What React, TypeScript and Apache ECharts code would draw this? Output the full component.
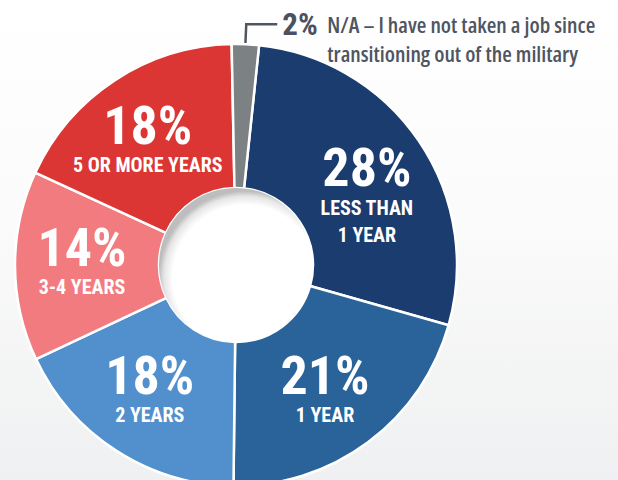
import React, { useEffect, useRef } from "react";
import * as echarts from "echarts";

const categories = [
  "LESS THAN\n1 YEAR",
  "1 YEAR",
  "2 YEARS",
  "3-4 YEARS",
  "5 OR MORE YEARS",
  "N/A – I have not taken a job since\ntransitioning out of the military",
];
const values = [28, 21, 18, 14, 18, 2];
const colors = ["#1b3c6f", "#2a6399", "#5190cd", "#f27b7f", "#db3634", "#7c8184"];

const COND = "Roboto, 'Open Sans', 'DejaVu Sans Condensed', sans-serif";
const CALLOUT = "'Open Sans', Roboto, sans-serif";

// small nudges of inside labels (layout only)
const labelShift: [number, number][] = [
  [5, 15],
  [-2, 2],
  [-4, -4],
  [-2, -5],
  [-5, 1],
  [0, 0],
];

export default function App() {
  const ref = useRef<HTMLDivElement>(null);

  useEffect(() => {
    if (!ref.current) return;
    const chart = echarts.init(ref.current, undefined, { renderer: "svg" });
    const last = values.length - 1;

    const data = values.map((v, i) => {
      const item: any = {
        value: v,
        name: categories[i],
        itemStyle: { color: colors[i] },
      };
      if (i === last) {
        item.label = {
          position: "outside",
          formatter: (p: any) => {
            const lines = String(p.name).split("\n");
            return `{pct|${p.value}%}{txt|${lines[0]}}\n{pad| }{txt|${lines[1]}}`;
          },
          width: 330,
          overflow: "none",
          align: "left",
          padding: [29, 0, 0, 0],
          distanceToLabelLine: 5,
          rich: {
            pct: {
              fontFamily: COND,
              fontWeight: "bold",
              fontSize: 31,
              color: "#4b5160",
              lineHeight: 29,
              width: 45,
              align: "left",
            },
            pad: { width: 45, lineHeight: 29, fontSize: 20, align: "left" },
            txt: {
              fontFamily: CALLOUT,
              fontWeight: 600,
              fontSize: 22,
              color: "#4f5562",
              lineHeight: 29,
              align: "left",
            },
          },
        };
        item.labelLine = {
          show: true,
          length: 20,
          length2: 31,
          lineStyle: { color: "#50565e", width: 2.5 },
        };
      }
      return item;
    });

    chart.setOption({
      animation: false,
      backgroundColor: "transparent",
      series: [
        {
          type: "pie",
          center: [236, 265],
          radius: [77, 221],
          startAngle: 84,
          clockwise: true,
          avoidLabelOverlap: false,
          itemStyle: { borderColor: "#ffffff", borderWidth: 2.5 },
          label: {
            show: true,
            position: "inside",
            formatter: (p: any) => `{pct|${p.value}%}\n{cat|${p.name}}`,
            rich: {
              pct: {
                fontFamily: COND,
                fontWeight: "bold",
                fontSize: 54,
                color: "#ffffff",
                lineHeight: 53,
                align: "center",
              },
              cat: {
                fontFamily: COND,
                fontWeight: "bold",
                fontSize: 20,
                color: "#ffffff",
                lineHeight: 27,
                align: "center",
              },
            },
          },
          labelLayout: (params: any) => {
            const s = labelShift[params.dataIndex] || [0, 0];
            return params.dataIndex === last ? {} : { dx: s[0], dy: s[1] };
          },
          labelLine: { show: false },
          emphasis: { disabled: true },
          data,
        },
        {
          type: "pie",
          center: [236, 265],
          radius: [0, 77],
          silent: true,
          label: { show: false },
          labelLine: { show: false },
          emphasis: { disabled: true },
          itemStyle: {
            color: new echarts.graphic.RadialGradient(0.56, 0.58, 0.56, [
              { offset: 0, color: "#ffffff" },
              { offset: 0.84, color: "#ffffff" },
              { offset: 0.94, color: "#e6e6e6" },
              { offset: 1, color: "#bdbdbd" },
            ]),
          },
          data: [{ value: 1, name: "hole" }],
        },
      ],
    });

    return () => chart.dispose();
  }, []);

  return (
    <div
      style={{
        position: "fixed",
        left: 0,
        top: 0,
        width: 618,
        height: 480,
        background: "linear-gradient(to bottom, #ffffff 0%, #fbfbfb 45%, #eff0f1 100%)",
      }}
    >
      <style>{`#pie-host svg text { font-stretch: condensed !important; }`}</style>
      <div id="pie-host" ref={ref} style={{ width: 618, height: 480 }} />
    </div>
  );
}
